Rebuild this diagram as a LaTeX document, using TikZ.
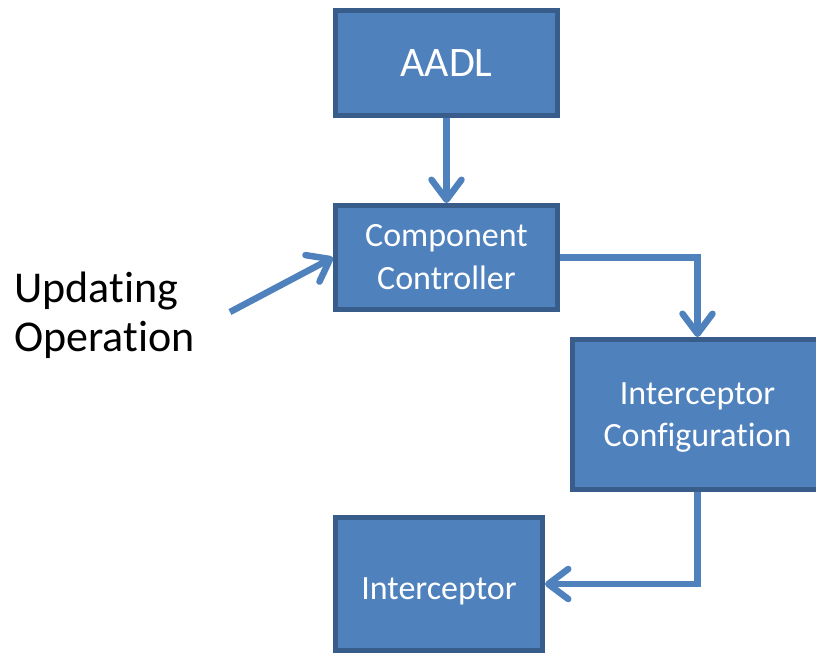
\documentclass[tikz,border=0pt]{standalone}
\usepackage{fontspec}
\setmainfont{Carlito}[Ligatures=NoCommon]
\usetikzlibrary{arrows.meta}
\definecolor{boxfill}{HTML}{4F81BD}
\definecolor{boxline}{HTML}{385D8A}
\newcommand{\lowerby}[2]{\raisebox{-#1}[\height][\depth]{#2}}
\tikzset{
  blk/.style={draw=boxline, fill=boxfill, line width=5pt, rectangle, text=white, align=center, inner sep=0pt},
  conn/.style={draw=boxfill, line width=6.5pt, -{Straight Barb[length=20pt,width=30pt,round]}}
}
\begin{document}
\begin{tikzpicture}[x=1pt,y=-1pt]
\useasboundingbox (0,0) rectangle (816,654);
\node[blk, minimum width=222pt, minimum height=105pt, font=\fontsize{42}{48}\selectfont] (aadl) at (446.5,63) {AADL};
\node[blk, minimum width=222pt, minimum height=104pt, font=\fontsize{34}{43}\selectfont] (cc) at (446.5,257.5) {Component\\Controller};
\node[blk, minimum width=250pt, minimum height=150pt, font=\fontsize{34}{42}\selectfont] (ic) at (697.5,414.5) {\lowerby{3pt}{Interceptor}\\\lowerby{3pt}{Configuration}};
\node[blk, minimum width=207pt, minimum height=133pt, font=\fontsize{34}{40}\selectfont] (int) at (439,584) {\lowerby{7pt}{Interceptor}};
\node[anchor=base west, align=left, inner sep=0pt, font=\fontsize{44}{49}\selectfont] (upd) at (14,351) {Updating\\Operation};
\coordinate (ustart) at (230,312);
\draw[conn] (aadl) -- (cc);
\draw[conn] (cc.east) -| (ic.north);
\draw[conn] (ic.south) |- (int.east);
\draw[conn] (ustart) -- (cc.west);
\end{tikzpicture}
\end{document}
